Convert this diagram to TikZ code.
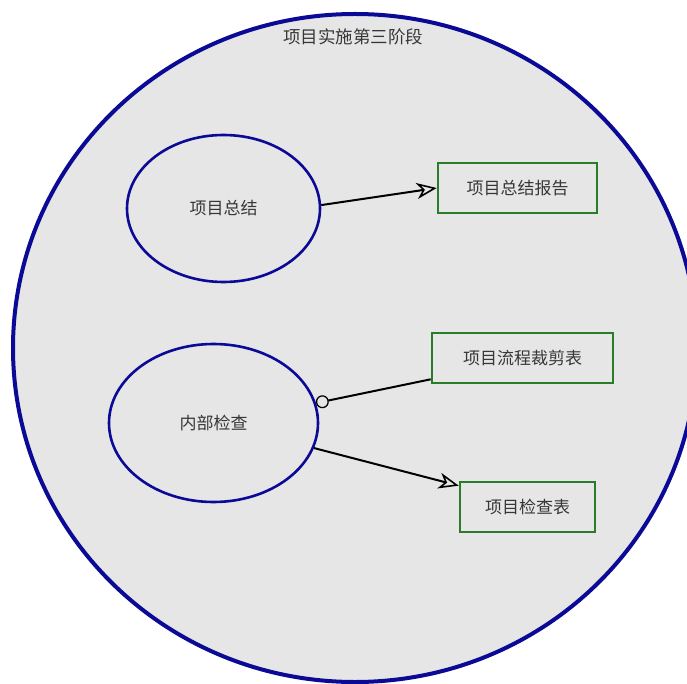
\documentclass[tikz,border=0pt]{standalone}
\usepackage{fontspec}
\newfontfamily\cjk{Noto Sans CJK SC}
\usetikzlibrary{shapes.geometric,arrows.meta,calc}
\definecolor{bg}{RGB}{230,230,230}
\definecolor{navy}{RGB}{10,10,150}
\definecolor{boxgreen}{RGB}{40,125,40}
\definecolor{txt}{RGB}{55,55,55}
\tikzset{
  oval/.style={ellipse, draw=navy, line width=2.6pt, inner sep=0pt, font=\cjk\fontsize{17}{17}\selectfont, text=txt},
  docbox/.style={rectangle, draw=boxgreen, line width=2.6pt, inner sep=0pt, font=\cjk\fontsize{17}{17}\selectfont, text=txt},
  flow/.style={black, line width=2pt, -{Stealth[open, length=20pt, width=16pt, inset=6pt, line width=1.6pt]}},
  link/.style={black, line width=2pt, {Circle[open, length=13pt, width=13pt, line width=1.3pt, fill=bg]}-}
}
\begin{document}
\begin{tikzpicture}[x=1pt,y=-1pt]
\useasboundingbox (0,0) rectangle (687,684);
\clip (0,0) rectangle (687,684);
\fill[white] (0,0) rectangle (687,684);
\node[ellipse, fill=bg, draw=navy, line width=4pt, minimum width=684pt, minimum height=668pt, inner sep=0pt] (stage) at (355,348) {};
\node[font=\cjk\fontsize{17.5}{17.5}\selectfont, text=txt] (title) at (353,37) {项目实施第三阶段};
\node[oval, minimum width=193pt, minimum height=147pt] (e1) at (223.5,208.5) {项目总结};
\node[oval, minimum width=209pt, minimum height=158pt] (e2) at (213.5,423) {内部检查};
\node[docbox, minimum width=159pt, minimum height=50pt] (b1) at (517.5,188) {项目总结报告};
\node[docbox, minimum width=181pt, minimum height=50pt] (b2) at (522.5,358) {项目流程裁剪表};
\node[docbox, minimum width=135pt, minimum height=50pt] (b3) at (527.5,507) {项目检查表};
\coordinate (b2in) at ($(b2.south west)+(0,-5)$);
\coordinate (b3in) at ($(b3.north west)+(0,5)$);
\draw[flow] (e1.2) -- (b1.west);
\draw[link] (e2.11) -- (b2in);
\draw[flow] (e2.-14) -- (b3in);
\end{tikzpicture}
\end{document}
